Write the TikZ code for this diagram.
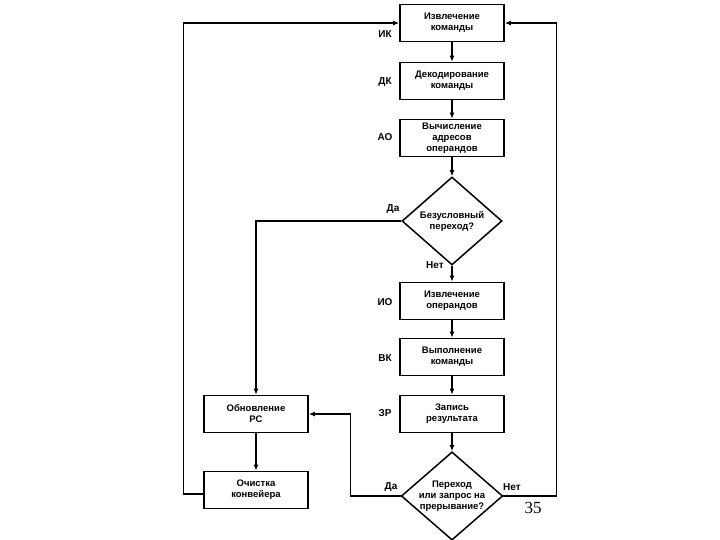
\documentclass[tikz,border=0pt]{standalone}
\usepackage{fontspec}
\setmainfont{Liberation Sans}
\newfontfamily\pagenumfont{Liberation Serif}
\usetikzlibrary{arrows.meta, shapes.geometric}

\begin{document}
\begin{tikzpicture}[
  x=1pt, y=-1pt,
  stage/.style={rectangle, draw, line width=1.7pt, minimum width=104pt,
                minimum height=37pt, inner sep=1pt, align=center,
                font=\fontsize{9.5}{11}\selectfont\bfseries},
  test/.style={diamond, draw, line width=1.5pt, aspect=1.15,
               minimum width=100pt, minimum height=88pt, inner sep=0pt,
               align=center, font=\fontsize{9.5}{11}\selectfont\bfseries},
  tag/.style={font=\fontsize{10}{11}\selectfont\bfseries},
  flow/.style={draw, line width=1.3pt, -{Latex[length=6pt, width=5pt]}}
]
  \useasboundingbox (0,0) rectangle (720,540);
  % pipeline stages, one under the other
  \foreach \y/\txt/\nm/\ty/\tg in {
    23/{Извлечение\\команды}/IK/34/ИК,
    81/{Декодирование\\команды}/DK/82/ДК,
    138/{Вычисление\\адресов\\операндов}/AO/137/АО,
    301/{Извлечение\\операндов}/IO/302/ИО,
    357/{Выполнение\\команды}/VK/358/ВК,
    414/{Запись\\результата}/ZR/413/ЗР}
    {\node[stage] (\nm) at (452,\y) {\txt};
     \node[tag] at (385,\ty) {\tg};}
  \node[test] (J1) at (452,221) {Безусловный\\переход?};
  \node[test] (J2) at (452,496) {Переход\\или запрос на\\прерывание?};
  \node[stage] (PC) at (256,414) {Обновление\\PC};
  \node[stage] (CL) at (256,490) {Очистка\\конвейера};
  \draw[flow] (IK) -- (DK);
  \draw[flow] (DK) -- (AO);
  \draw[flow] (AO) -- (J1);
  \draw[flow] (J1) -- (IO);
  \draw[flow] (IO) -- (VK);
  \draw[flow] (VK) -- (ZR);
  \draw[flow] (ZR) -- (J2);
  \draw[flow] (J1.west) -| (PC.north);
  \draw[flow] (J2.west) -- ++(-50,0) |- (PC.east);
  \draw[flow] (J2.east) -- ++(53,0) |- (IK.east);
  \draw[flow] ([yshift=-4pt]CL.west) -- ++(-20,0) |- (IK.west);
  \draw[flow, line width=2.2pt] (PC) -- (CL);
  \node[tag] at (393,209) {Да};
  \node[tag] at (435,265) {Нет};
  \node[tag] at (391,487) {Да};
  \node[tag] at (512,487) {Нет};
  \node[font=\pagenumfont\fontsize{17}{17}\selectfont] at (533,508) {35};
\end{tikzpicture}
\end{document}
